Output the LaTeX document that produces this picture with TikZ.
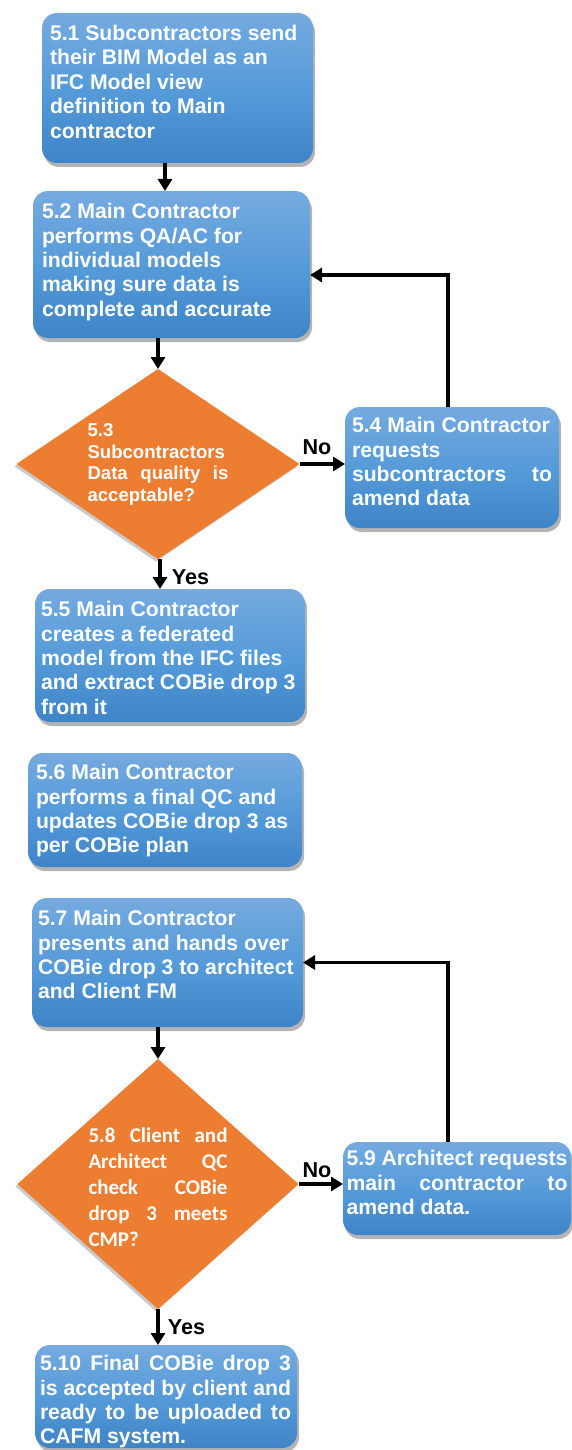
\documentclass[tikz,border=0pt]{standalone}
\usepackage{fontspec}
\setmainfont{Liberation Sans}
\newfontfamily\calfont{Carlito}
\usetikzlibrary{shapes.geometric,arrows.meta,shadows}
\definecolor{boxtop}{RGB}{117,170,223}
\definecolor{boxmid}{RGB}{86,155,217}
\definecolor{boxbot}{RGB}{62,132,199}
\definecolor{dorange}{RGB}{237,125,49}
\newcommand{\bxt}[4]{\parbox[c][#2][t]{#1}{\raggedright\rule{0pt}{#3}#4}}
\newcommand{\jl}[2]{\makebox[#1][s]{#2}}
\newcommand{\dxt}[3]{\makebox[0pt]{\raisebox{#2}[0pt][0pt]{\parbox{#1}{\raggedright #3}}}}
\begin{document}
\begin{tikzpicture}[x=1pt,y=-1pt,
 stepbox/.style={rounded corners=15pt, top color=boxtop, bottom color=boxbot, middle color=boxmid,
   text=white, inner sep=0pt, outer sep=0pt, anchor=north west,
   font=\fontsize{21.2pt}{24.4pt}\selectfont\bfseries,
   drop shadow={shadow xshift=2pt, shadow yshift=-4pt, fill=black!65, opacity=.45}},
 decision/.style={diamond, fill=dorange, inner sep=0pt, outer sep=0pt, text=white,
   drop shadow={shadow xshift=-2pt, shadow yshift=-2.5pt, fill=black!60, opacity=.35}},
 arr/.style={line width=3.2pt, -{Triangle[length=12pt,width=14pt]}},
 lbl/.style={font=\fontsize{21.6pt}{24pt}\selectfont\bfseries, inner sep=0pt, text=black},
]
\useasboundingbox (0,0) rectangle (572,1450);

\node[stepbox, minimum width=271pt, minimum height=150pt] (b51) at (42,13)
 {\bxt{255pt}{150pt}{27.6pt}{5.1 Subcontractors send\\their BIM Model as an\\IFC Model view\\definition to Main\\contractor}};
\node[stepbox, minimum width=277pt, minimum height=147pt] (b52) at (33,191)
 {\bxt{259pt}{147pt}{27.6pt}{5.2 Main Contractor\\performs QA/AC for\\individual models\\making sure data is\\complete and accurate}};
\node[decision, minimum width=283pt, minimum height=190pt] (d53) at (158,464)
 {\dxt{141pt}{-3pt}{\fontsize{18.6pt}{21.5pt}\selectfont\bfseries 5.3\\Subcontractors\\\jl{141pt}{Data quality is}\\acceptable?}};
\node[stepbox, minimum width=214pt, minimum height=121pt] (b54) at (345,407)
 {\bxt{200pt}{121pt}{25.6pt}{5.4 Main Contractor\\requests\\\jl{200pt}{subcontractors to}\\amend data}};
\node[stepbox, minimum width=270pt, minimum height=133pt] (b55) at (35,589)
 {\bxt{258pt}{133pt}{27.6pt}{5.5 Main Contractor\\creates a federated\\model from the IFC files\\and extract COBie drop 3\\from it}};
\node[stepbox, minimum width=274pt, minimum height=114pt] (b56) at (28,753)
 {\bxt{258pt}{114pt}{26.6pt}{5.6 Main Contractor\\performs a final QC and\\updates COBie drop 3 as\\per COBie plan}};
\node[stepbox, minimum width=271pt, minimum height=129pt] (b57) at (32,898)
 {\bxt{259pt}{129pt}{27.6pt}{5.7 Main Contractor\\presents and hands over\\COBie drop 3 to architect\\and Client FM}};
\node[decision, minimum width=281pt, minimum height=250pt] (d58) at (158,1184)
 {\dxt{139pt}{-6pt}{\calfont\fontsize{21pt}{26pt}\selectfont\bfseries \jl{139pt}{5.8 Client and}\\\jl{139pt}{Architect QC}\\\jl{139pt}{check COBie}\\\jl{139pt}{drop 3 meets}\\CMP?}};
\node[stepbox, minimum width=228pt, minimum height=93pt] (b59) at (343,1142)
 {\bxt{221pt}{93pt}{23.6pt}{\jl{221pt}{5.9 Architect requests}\\\jl{221pt}{main contractor to}\\amend data.}};
\node[stepbox, minimum width=262pt, minimum height=103pt] (b510) at (35,1345)
 {\bxt{252pt}{103pt}{25.6pt}{\jl{251pt}{5.10 Final COBie drop 3}\\\jl{251pt}{is accepted by client and}\\\jl{251pt}{ready to be uploaded to}\\CAFM system.}};

\draw[arr] ([xshift=-12.5pt]b51.south) -- ([xshift=-12.5pt]b51.south |- b52.north);
\draw[arr] (b52.south -| d53.north) -- (d53.north);
\draw[arr] (d53.east) -- (d53.east -| b54.west);
\node[lbl] (no1) at (317,447) {No};
\draw[arr] ([xshift=2pt]d53.south) -- ([xshift=2pt]d53.south |- b55.north);
\node[lbl] (yes1) at (190.5,577) {Yes};
\draw[arr] ([xshift=-4pt]b54.north) |- ([yshift=-10.5pt]b52.east);
\draw[arr] (b57.south -| d58.north) -- (d58.north);
\draw[arr] (d58.east) -- (d58.east -| b59.west);
\node[lbl] (no2) at (317,1170) {No};
\draw[arr] (d58.south) -- (d58.south |- b510.north);
\node[lbl] (yes2) at (186.5,1327) {Yes};
\draw[arr] ([xshift=-9pt]b59.north) |- (b57.east);
\end{tikzpicture}
\end{document}
